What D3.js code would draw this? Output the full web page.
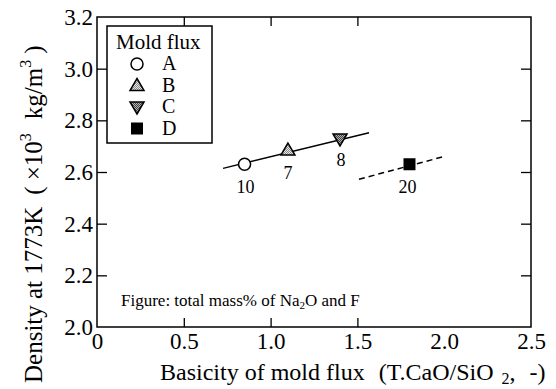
<!DOCTYPE html>
<html>
<head>
<meta charset="utf-8">
<script src="https://cdn.jsdelivr.net/npm/d3@7"></script>
<style>
  body { margin: 0; background: #fff; }
  svg, svg text { font-family: "Liberation Serif", "Times New Roman", serif; }
</style>
</head>
<body>
<div id="plot-container"></div>
<script>
const fluxes = ["A", "B", "C", "D"];
const basicity = [0.85, 1.1, 1.4, 1.8];
const density = [2.63, 2.685, 2.728, 2.63];
const naoF = [10, 7, 8, 20];
const symbols = ["circle", "triangle", "triangleDown", "square"];
const xTicks = [0, 0.5, 1.0, 1.5, 2.0, 2.5];
const yTicks = [2.0, 2.2, 2.4, 2.6, 2.8, 3.0, 3.2];
// trend lines
const solidLine = [[0.726, 2.614], [1.567, 2.752]];
const dashedLine = [[1.509, 2.572], [2.01, 2.662]];

const width = 556, height = 389;
const margin = { top: 17, right: 25, bottom: 62, left: 97 };

const svg = d3.select("#plot-container")
    .append("svg")
    .attr("width", width)
    .attr("height", height);

const defs = svg.append("defs");
function hatch(id, light, dark) {
    const p = defs.append("pattern")
        .attr("id", id)
        .attr("patternUnits", "userSpaceOnUse")
        .attr("width", 2).attr("height", 2);
    p.append("rect").attr("width", 2).attr("height", 2).attr("fill", light);
    p.append("rect").attr("width", 1).attr("height", 1).attr("fill", dark);
    p.append("rect").attr("x", 1).attr("y", 1).attr("width", 1).attr("height", 1).attr("fill", dark);
}
hatch("hatchB", "#e6e6e6", "#8a8a8a");
hatch("hatchC", "#b0b0b0", "#444");

const xScale = d3.scaleLinear()
    .domain([0, 2.5])
    .range([margin.left, width - margin.right]);

const yScale = d3.scaleLinear()
    .domain([2.0, 3.2])
    .range([height - margin.bottom, margin.top]);

const x0 = xScale.range()[0], x1 = xScale.range()[1];
const y0 = yScale.range()[0], y1 = yScale.range()[1];

// axes with inward ticks
const fmt = d => d === 0 ? "0" : d3.format(".1f")(d);

svg.append("g")
    .attr("transform", "translate(0," + y0 + ")")
    .call(d3.axisBottom(xScale).tickValues(xTicks).tickFormat(fmt).tickSizeInner(-9).tickSizeOuter(0).tickPadding(6))
    .call(g => g.selectAll("text").style("font-size", "23px").style("font-family", "'Liberation Serif', serif").attr("fill", "#000"));

svg.append("g")
    .attr("transform", "translate(0," + y1 + ")")
    .call(d3.axisTop(xScale).tickValues(xTicks).tickFormat("").tickSizeInner(-9).tickSizeOuter(0));

svg.append("g")
    .attr("transform", "translate(" + x0 + ",0)")
    .call(d3.axisLeft(yScale).tickValues(yTicks).tickFormat(d3.format(".1f")).tickSizeInner(-10).tickSizeOuter(0).tickPadding(4))
    .call(g => g.selectAll("text").style("font-size", "23px").style("font-family", "'Liberation Serif', serif").attr("fill", "#000"));

svg.append("g")
    .attr("transform", "translate(" + x1 + ",0)")
    .call(d3.axisRight(yScale).tickValues(yTicks).tickFormat("").tickSizeInner(-10).tickSizeOuter(0));

svg.selectAll(".domain").remove();
svg.selectAll(".tick line").attr("stroke", "#000").attr("stroke-width", 1.3);
svg.selectAll(".tick").filter(d => d === 2.0 || d === 3.2 || d === 0 || d === 2.5).select("line").remove();

svg.append("rect")
    .attr("x", x0).attr("y", y1)
    .attr("width", x1 - x0).attr("height", y0 - y1)
    .attr("fill", "none").attr("stroke", "#000").attr("stroke-width", 1.5);

// trend lines
const line = d3.line().x(d => xScale(d[0])).y(d => yScale(d[1]));
svg.append("path").attr("d", line(solidLine))
    .attr("fill", "none").attr("stroke", "#000").attr("stroke-width", 1.5);
svg.append("path").attr("d", line(dashedLine))
    .attr("fill", "none").attr("stroke", "#000").attr("stroke-width", 1.5)
    .attr("stroke-dasharray", "6,4");

function drawSymbol(g, type, cx, cy) {
    if (type === "circle") {
        g.append("circle").attr("cx", cx).attr("cy", cy).attr("r", 6)
            .attr("fill", "#fff").attr("stroke", "#000").attr("stroke-width", 1.5);
    } else if (type === "triangle") {
        g.append("path").attr("d", `M${cx},${cy - 7}L${cx + 7},${cy + 5}L${cx - 7},${cy + 5}Z`)
            .attr("fill", "url(#hatchB)").attr("stroke", "#000").attr("stroke-width", 1.5);
    } else if (type === "triangleDown") {
        g.append("path").attr("d", `M${cx},${cy + 7}L${cx + 7},${cy - 5}L${cx - 7},${cy - 5}Z`)
            .attr("fill", "url(#hatchC)").attr("stroke", "#000").attr("stroke-width", 1.5);
    } else {
        g.append("rect").attr("x", cx - 6).attr("y", cy - 6).attr("width", 12).attr("height", 12)
            .attr("fill", "#000");
    }
}

const pts = svg.append("g");
fluxes.forEach((f, i) => drawSymbol(pts, symbols[i], xScale(basicity[i]), yScale(density[i])));

// Na2O + F labels
const labelOffset = [[1, 22], [0, 22], [1, 20], [-2, 22]];
svg.append("g").selectAll("text")
    .data(naoF)
    .enter()
    .append("text")
    .attr("x", (d, i) => xScale(basicity[i]) + labelOffset[i][0])
    .attr("y", (d, i) => yScale(density[i]) + labelOffset[i][1] + 7)
    .attr("text-anchor", "middle")
    .attr("font-size", 18)
    .text(d => d);

// legend
const lg = svg.append("g");
lg.append("rect").attr("x", 107).attr("y", 26).attr("width", 105).attr("height", 117)
    .attr("fill", "#fff").attr("stroke", "#000").attr("stroke-width", 1.5);
lg.append("text").attr("x", 116).attr("y", 49).attr("font-size", 21).text("Mold flux");
fluxes.forEach((f, i) => {
    const cy = 64 + i * 21.5;
    drawSymbol(lg, symbols[i], 137, cy);
    lg.append("text").attr("x", 162).attr("y", cy + 6).attr("font-size", 20).text(f);
});

// annotation
const ann = svg.append("text").attr("x", 121).attr("y", 306).attr("font-size", 17);
ann.append("tspan").text("Figure: total mass% of Na");
ann.append("tspan").attr("font-size", 11).attr("dy", 3).text("2");
ann.append("tspan").attr("dy", -3).text("O and F");

// axis titles
const xt = svg.append("text").attr("x", 160).attr("y", 380)
    .attr("text-anchor", "start").attr("font-size", 24);
xt.append("tspan").text("Basicity of mold flux");
xt.append("tspan").attr("dx", 14).text("(T.CaO/SiO");
xt.append("tspan").attr("dx", 8).attr("font-size", 16).attr("dy", 4).text("2");
xt.append("tspan").attr("dy", -4).text(",");
xt.append("tspan").attr("dx", 14).text("-)");

const yt = svg.append("text")
    .attr("transform", `translate(42,383) rotate(-90)`)
    .attr("text-anchor", "start").attr("font-size", 25);
yt.append("tspan").text("Density at 1773K");
yt.append("tspan").attr("dx", 12).text("(");
yt.append("tspan").attr("dx", 6).text("×10");
yt.append("tspan").attr("font-size", 16).attr("dy", -11).text("3");
yt.append("tspan").attr("dx", 14).attr("dy", 11).text("kg/m");
yt.append("tspan").attr("font-size", 16).attr("dy", -11).text("3");
yt.append("tspan").attr("dx", 6).attr("dy", 11).text(")");
</script>
</body>
</html>
